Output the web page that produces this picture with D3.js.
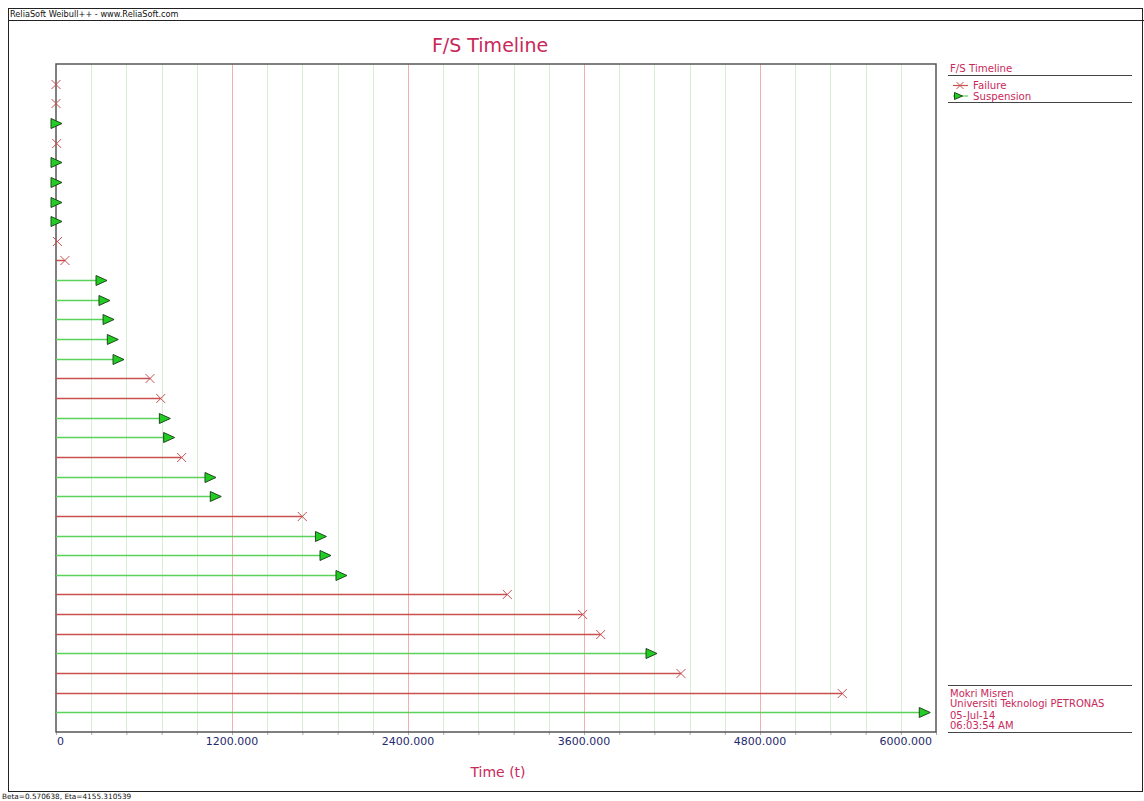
<!DOCTYPE html>
<html>
<head>
<meta charset="utf-8">
<script src="https://cdn.jsdelivr.net/npm/d3@7"></script>
<style>
  body { margin: 0; background: #fff; }
  svg { display: block; font-family: "DejaVu Sans", Verdana, sans-serif; }
</style>
</head>
<body>
<svg class="main" width="1144" height="801"></svg>
<script>
var svg = d3.select(".main");

var times = [0, 0, 0, 5, 0, 0, 0, 0, 10, 61,
             307, 327, 355, 384, 423, 641, 714, 739, 768, 857,
             1050, 1086, 1679, 1803, 1834, 1943, 3077, 3591, 3714, 4057,
             4261, 5361, 5920];
var states = ["F", "F", "S", "F", "S", "S", "S", "S", "F", "F",
              "S", "S", "S", "S", "S", "F", "F", "S", "S", "F",
              "S", "S", "F", "S", "S", "S", "F", "F", "F", "S",
              "F", "F", "S"];
var majorTicks = [0, 1200, 2400, 3600, 4800, 6000];
var tickLabels = ["0", "1200.000", "2400.000", "3600.000", "4800.000", "6000.000"];
var legendItems = ["Failure", "Suspension"];
var infoLines = ["Mokri Misren", "Universiti Teknologi PETRONAS", "05-Jul-14", "06:03:54 AM"];

// "top" is taken by window.top, so plot edges get their own names
var pL = 56, pR = 936, pT = 64, pB = 732;
var crimson = "#c8285a",
    redLine = "#c85050",
    greenLine = "#5ad25a";

var x = d3.scaleLinear().domain([0, 6000]).range([pL, pR]);
var y = d3.scalePoint().domain(d3.range(times.length)).range([pT, pB]).padding(1);

// outer frame + header/footer
svg.append("rect")
    .attr("x", 8.5).attr("y", 8.5).attr("width", 1134).attr("height", 783)
    .attr("fill", "none").attr("stroke", "#222");
svg.append("line")
    .attr("x1", 8).attr("x2", 1144).attr("y1", 20.5).attr("y2", 20.5)
    .attr("stroke", "#222");
svg.append("text")
    .attr("x", 10).attr("y", 17)
    .attr("font-size", 8.2).attr("fill", "#111")
    .text("ReliaSoft Weibull++ - www.ReliaSoft.com");
svg.append("text")
    .attr("x", 2).attr("y", 799)
    .attr("font-size", 7.3).attr("fill", "#111")
    .text("Beta=0.570638, Eta=4155.310539");

// title
svg.append("text")
    .attr("x", 490).attr("y", 52)
    .attr("text-anchor", "middle")
    .attr("font-size", 19).attr("fill", crimson)
    .text("F/S Timeline");

// grid
var minor = d3.range(240, 6000, 240).filter(function(d) { return d % 1200 !== 0; });
svg.append("g").selectAll("line")
    .data(minor).join("line")
    .attr("x1", function(d) { return Math.round(x(d)) + 0.5; })
    .attr("x2", function(d) { return Math.round(x(d)) + 0.5; })
    .attr("y1", pT).attr("y2", pB)
    .attr("stroke", "#d4eed4");
svg.append("g").selectAll("line")
    .data([1200, 2400, 3600, 4800]).join("line")
    .attr("x1", function(d) { return Math.round(x(d)) + 0.5; })
    .attr("x2", function(d) { return Math.round(x(d)) + 0.5; })
    .attr("y1", pT).attr("y2", pB)
    .attr("stroke", "#f0b0b0");

// axis
var axis = d3.axisBottom(x)
    .tickValues(d3.range(0, 6001, 240))
    .tickSize(3)
    .tickFormat("");
var ax = svg.append("g")
    .attr("transform", "translate(0," + pB + ")")
    .call(axis);
ax.select(".domain").remove();
ax.selectAll(".tick line").attr("stroke", "#aaa");

svg.append("g").selectAll("text")
    .data(majorTicks).join("text")
    .attr("x", function(d, i) {
        return i === majorTicks.length - 1 ? x(d) - 4 : x(d) + (i === 0 ? 1 : 0);
    })
    .attr("y", 745)
    .attr("text-anchor", function(d, i) {
        return i === 0 ? "start" : (i === majorTicks.length - 1 ? "end" : "middle");
    })
    .attr("font-size", 11).attr("fill", "#1f2a6e")
    .text(function(d, i) { return tickLabels[i]; });

svg.append("text")
    .attr("x", 498).attr("y", 777)
    .attr("text-anchor", "middle")
    .attr("font-size", 14).attr("fill", crimson)
    .text("Time (t)");

// plot frame
svg.append("rect")
    .attr("x", pL).attr("y", pT)
    .attr("width", pR - pL).attr("height", pB - pT)
    .attr("fill", "none").attr("stroke", "#555").attr("stroke-width", 1.5);

function cross(g, cx, cy, s) {
    g.append("path")
        .attr("d", "M" + (cx - s) + "," + (cy - s) + "L" + (cx + s) + "," + (cy + s) +
                   "M" + (cx - s) + "," + (cy + s) + "L" + (cx + s) + "," + (cy - s))
        .attr("stroke", redLine).attr("stroke-width", 1).attr("fill", "none");
}
function tri(g, cx, cy, s) {
    g.append("path")
        .attr("d", "M" + (cx - s) + "," + (cy - s) + "L" + (cx + s + 1) + "," + cy +
                   "L" + (cx - s) + "," + (cy + s) + "Z")
        .attr("fill", "#22cc22").attr("stroke", "#1e4a1e").attr("stroke-width", 1);
}

// rows
var rows = svg.append("g");
times.forEach(function(t, i) {
    var cy = Math.round(y(i)) + 0.5,
        cx = x(t),
        fail = states[i] === "F";
    if (cx - pL > 1) {
        rows.append("line")
            .attr("x1", pL).attr("x2", fail ? cx : cx - 4)
            .attr("y1", cy).attr("y2", cy)
            .attr("stroke", fail ? redLine : greenLine)
            .attr("stroke-width", 1.5);
    }
    if (fail) cross(rows, cx, cy, 4.5);
    else tri(rows, cx, cy, 5);
});

// legend
var lx = 948, lr = 1132;
svg.append("text")
    .attr("x", 950).attr("y", 72)
    .attr("font-size", 10.2).attr("fill", crimson)
    .text("F/S Timeline");
svg.append("line").attr("x1", lx).attr("x2", lr).attr("y1", 75.5).attr("y2", 75.5)
    .attr("stroke", "#444");
legendItems.forEach(function(name, i) {
    var ly = 85.5 + i * 10.5;
    svg.append("line").attr("x1", 953).attr("x2", 968).attr("y1", ly).attr("y2", ly)
        .attr("stroke", i === 0 ? redLine : greenLine).attr("stroke-width", 1.2);
    if (i === 0) cross(svg, 960, ly, 3.5);
    else tri(svg, 958, ly, 3.5);
    svg.append("text")
        .attr("x", 973).attr("y", ly + 3.5)
        .attr("font-size", 10.2).attr("fill", crimson)
        .text(name);
});
svg.append("line").attr("x1", lx).attr("x2", lr).attr("y1", 102.5).attr("y2", 102.5)
    .attr("stroke", "#444");

// info block
svg.append("line").attr("x1", lx).attr("x2", lr).attr("y1", 685.5).attr("y2", 685.5)
    .attr("stroke", "#444");
svg.append("g").selectAll("text")
    .data(infoLines).join("text")
    .attr("x", 950)
    .attr("y", function(d, i) { return [697, 707, 718.5, 728.5][i]; })
    .attr("font-size", 10).attr("fill", crimson)
    .text(function(d) { return d; });
svg.append("line").attr("x1", lx).attr("x2", lr).attr("y1", 732.5).attr("y2", 732.5)
    .attr("stroke", "#444");
</script>
</body>
</html>
